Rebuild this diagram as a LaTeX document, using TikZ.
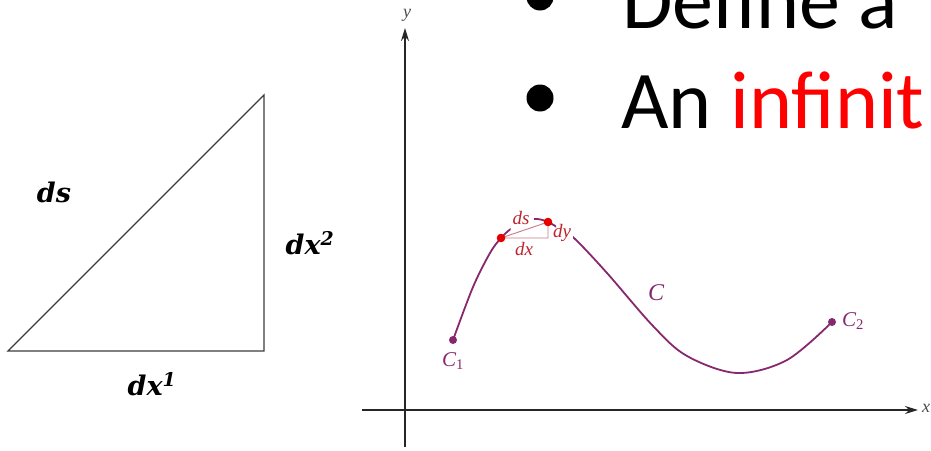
\documentclass[tikz,border=0pt]{standalone}
\usepackage{fontspec}
\newfontfamily\calib{Carlito}
\newfontfamily\dvs{DejaVu Serif}
\newfontfamily\lser{Liberation Serif}
\usetikzlibrary{arrows.meta}
\definecolor{curv}{RGB}{135,40,110}
\definecolor{dred}{RGB}{190,35,45}
\definecolor{pinkl}{RGB}{205,120,130}
\definecolor{dotred}{RGB}{228,0,0}
\definecolor{redtxt}{RGB}{255,0,0}
\definecolor{triline}{RGB}{60,60,60}
\tikzset{
  bigit/.style={font=\dvs\bfseries\itshape\fontsize{27}{30}\selectfont, inner sep=0},
  axisline/.style={line width=1.6pt, black!85, -{Stealth[length=13pt,width=8pt]}},
  axlab/.style={font=\lser\itshape\fontsize{18}{20}\selectfont, black!70, inner sep=0},
  curvestyle/.style={curv, line width=1.8pt, line cap=round},
  smalllab/.style={dred, font=\lser\itshape\fontsize{19}{21}\selectfont, inner sep=1pt},
  clab/.style={curv, font=\lser\itshape\fontsize{24}{26}\selectfont, inner sep=0},
  bullettext/.style={font=\calib\fontsize{82}{90}\selectfont, anchor=base west, inner sep=0}
}
\newcommand{\mycurve}{\draw[curvestyle] plot[smooth, tension=0.55] coordinates {
 (453,340) (473,287) (490,253) (501,238) (512,228) (525,221) (537,219)
 (548,222) (560,229) (575,239) (607,273) (653,326) (687,356) (737,373)
 (787,360) (832,322)};}
\begin{document}
\begin{tikzpicture}[x=1pt,y=-1pt]
\useasboundingbox (0,0) rectangle (931,450);
\begin{scope}
\clip (0,0) rectangle (931,450);
% left triangle
\coordinate (ta) at (8,351);
\coordinate (tb) at (264,351);
\coordinate (tc) at (264,95);
\draw[triline, line width=1.3pt] (ta) -- (tb) -- (tc) -- cycle;
\node[bigit] (lds) at (54,192) {ds};
\node[bigit] (ldx2) at (310,243) {dx\textsuperscript{2}};
\node[bigit] (ldx1) at (152,384) {dx\textsuperscript{1}};
% axes
\coordinate (yb) at (405,447);
\coordinate (yt) at (405,28);
\coordinate (xl) at (362,410);
\coordinate (xr) at (918,410);
\draw[axisline] (yb) -- (yt);
\draw[axisline] (xl) -- (xr);
\node[axlab] (ylab) at (407,15) {y};
\node[axlab] (xlab) at (926,408) {x};
% curve, in three visible pieces
\begin{scope}\clip (400,100) rectangle (510.5,400); \mycurve \end{scope}
\begin{scope}\clip (534,100) rectangle (556,400); \mycurve \end{scope}
\begin{scope}\clip (573,100) rectangle (900,400); \mycurve \end{scope}
% small labels
\node[smalllab] (sds) at (521,218) {ds};
\node[smalllab] (sdy) at (562,233) {dy};
\node[smalllab] (sdx) at (524,249) {dx};
% small triangle
\coordinate (p) at (501,238);
\coordinate (q) at (548,222);
\coordinate (r) at (548,238);
\draw[pinkl, line width=0.9pt] (p) -- (q) -- (r) -- cycle;
\fill[dotred] (p) circle (4.3pt);
\fill[dotred] (q) circle (4.3pt);
% endpoints
\coordinate (c1) at (453,340);
\coordinate (c2) at (832,322);
\fill[curv] (c1) circle (4pt);
\fill[curv] (c2) circle (4pt);
\node[clab, font=\lser\itshape\fontsize{21}{23}\selectfont] (lc1) at (453,361) {C\textsubscript{\upshape 1}};
\node[clab, font=\lser\itshape\fontsize{21}{23}\selectfont] (lc2) at (853,321) {C\textsubscript{\upshape 2}};
\node[clab] (lc) at (656,293) {C};
% bullet text
\fill (540,-3) circle (13.5pt);
\fill (540,98) circle (13.5pt);
\node[bullettext] (line1) at (622,28) {Define a};
\node[bullettext] (line2) at (621,128) {An \textcolor{redtxt}{infinit}};
\end{scope}
\end{tikzpicture}
\end{document}
